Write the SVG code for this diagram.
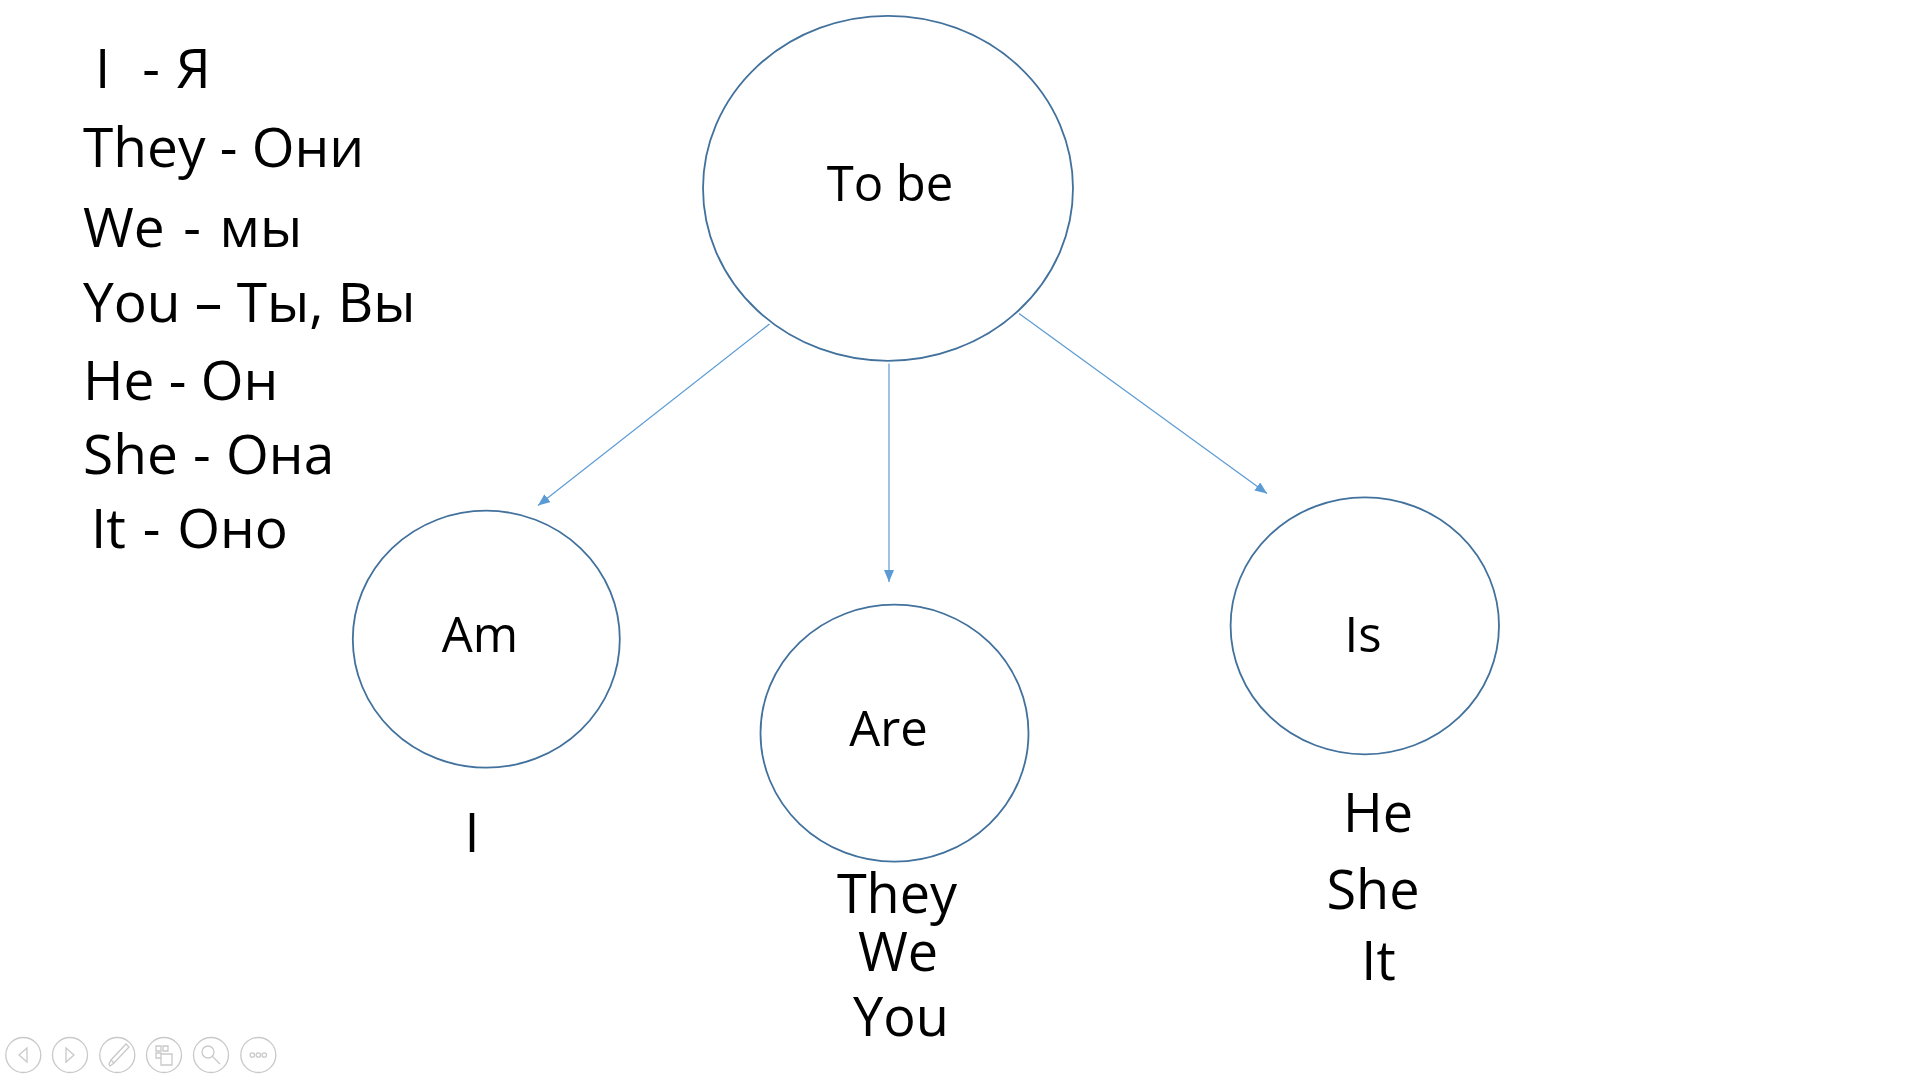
<svg xmlns="http://www.w3.org/2000/svg" width="1920" height="1080" viewBox="0 0 1920 1080">
<style>
.t{font-family:"Open Sans","Noto Sans",sans-serif;fill:#000;white-space:pre}
.n{font-size:49px;text-anchor:middle}
.l{font-size:55px}
.p{font-size:54px;text-anchor:middle}
.node{fill:#fff;stroke:#41719C;stroke-width:1.8}
.edge{stroke:#5B9BD5;stroke-width:1.2;fill:none;marker-end:url(#ah)}
.ic{fill:none;stroke:#c9c9c9;stroke-width:1.3}
</style>
<defs>
<marker id="ah" markerUnits="userSpaceOnUse" markerWidth="13" markerHeight="11" refX="12" refY="5" orient="auto">
<path d="M0,0 L12,5 L0,10 z" fill="#5B9BD5"/>
</marker>
</defs>
<rect width="1920" height="1080" fill="#fff"/>
<g id="pronouns">
<text class="t l" x="95" y="88" word-spacing="1.7">I  - Я</text>
<text class="t l" x="83" y="166.5">They - Они</text>
<text class="t l" x="83" y="247" word-spacing="4.3">We - мы</text>
<text class="t l" x="83" y="322">You – Ты, Вы</text>
<text class="t l" x="83" y="400">He - Он</text>
<text class="t l" x="83" y="473.5" word-spacing="1">She - Она</text>
<text class="t l" x="91" y="547.5" word-spacing="2.5">It - Оно</text>
</g>
<g id="connectors">
<line class="edge" x1="769.5" y1="324" x2="538" y2="505.5"/>
<line class="edge" x1="889" y1="363.5" x2="889" y2="582"/>
<line class="edge" x1="1019" y1="313.5" x2="1267" y2="493.5"/>
</g>
<g id="node-tobe">
<ellipse class="node" cx="888" cy="188.3" rx="185" ry="172.5" stroke-width="2.2"/>
<text class="t n" x="890" y="201">To be</text>
</g>
<g id="node-am">
<ellipse class="node" cx="486.3" cy="639.2" rx="133.5" ry="128.5"/>
<text class="t n" x="480" y="652">Am</text>
</g>
<g id="node-are">
<ellipse class="node" cx="894.5" cy="733.2" rx="134" ry="128.5"/>
<text class="t n" x="888.5" y="746">Are</text>
</g>
<g id="node-is">
<ellipse class="node" cx="1364.8" cy="625.8" rx="134.2" ry="128.5"/>
<text class="t n" x="1363" y="652">Is</text>
</g>
<g id="am-subjects">
<text class="t p" x="472" y="852">I</text>
</g>
<g id="are-subjects">
<text class="t p" x="897" y="913">They</text>
<text class="t p" x="898" y="971">We</text>
<text class="t p" x="901" y="1036">You</text>
</g>
<g id="is-subjects">
<text class="t p" x="1378" y="832">He</text>
<text class="t p" x="1373" y="909">She</text>
<text class="t p" x="1378.5" y="980">It</text>
</g>
<g id="toolbar">
<circle class="ic" cx="23.3" cy="1055" r="17.5"/>
<path class="ic" d="M27,1048 L19,1055 L27,1062 z"/>
<circle class="ic" cx="70" cy="1055" r="17.5"/>
<path class="ic" d="M66,1048 L74,1055 L66,1062 z"/>
<circle class="ic" cx="117.3" cy="1055" r="17.5"/>
<path class="ic" d="M126,1044 L129,1047 L114,1063 L110,1066 L109,1064 L111,1060 z M111,1060 L114,1063"/>
<circle class="ic" cx="164" cy="1055" r="17.5"/>
<path class="ic" d="M156,1046 h5 v5 h-5 z M163,1046 h5 v5 h-5 z M156,1053 h5 v5 h-5 z M161,1054 h11 v11 h-11 z"/>
<circle class="ic" cx="211" cy="1055" r="17.5"/>
<circle class="ic" cx="208" cy="1052" r="6"/>
<path class="ic" d="M212.5,1056.5 L220,1064" stroke-width="2.2"/>
<circle class="ic" cx="258.3" cy="1055" r="17.5"/>
<circle class="ic" cx="252.3" cy="1055" r="2.2"/>
<circle class="ic" cx="258.3" cy="1055" r="2.2"/>
<circle class="ic" cx="264.3" cy="1055" r="2.2"/>
</g>
</svg>
